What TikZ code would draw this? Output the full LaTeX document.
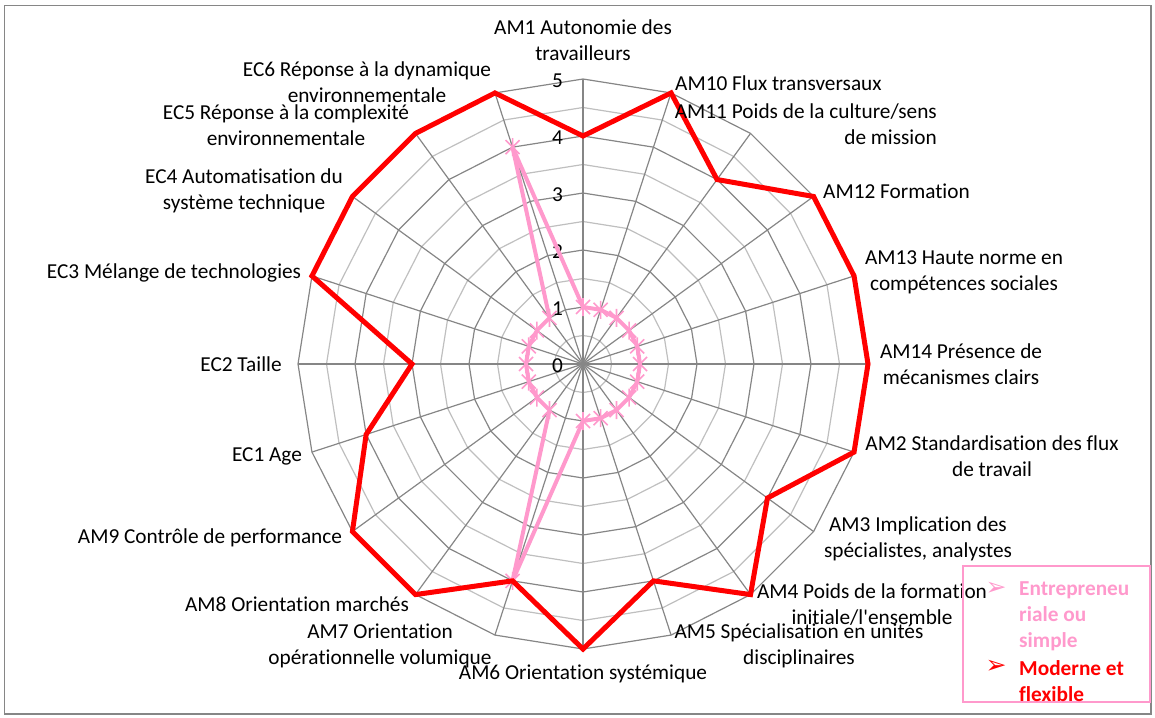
\documentclass[tikz,border=0pt]{standalone}
\usepackage{fontspec}
\setmainfont{Carlito}[Ligatures={TeXOff,CommonOff}]
\newfontfamily\symfont{DejaVu Sans}
\definecolor{gridd}{RGB}{134,134,134}
\definecolor{gridl}{RGB}{191,191,191}
\definecolor{pinkc}{RGB}{255,153,204}
\definecolor{redc}{RGB}{255,0,0}
\begin{document}
\begin{tikzpicture}[x=1pt,y=-1pt,
  lbl/.style={font=\fontsize{21.3}{26}\selectfont, inner sep=0pt, align=center, text=black},
  numlbl/.style={font=\fontsize{21.3}{26}\selectfont, inner sep=0pt, anchor=east},
  ringmajor/.style={draw=gridd, line width=1.2pt},
  ringminor/.style={draw=gridl, line width=1.2pt},
  spoke/.style={draw=gridd, line width=1.2pt},
  redseries/.style={draw=redc, line width=5pt, line join=miter, miter limit=4},
  pinkseries/.style={draw=pinkc, line width=4pt, line join=round},
  pinkmark/.style={draw=pinkc, line width=1.6pt},
  legtext/.style={font=\fontsize{21.3}{26}\selectfont\bfseries, inner sep=0pt, align=left, anchor=west},
  legbullet/.style={font=\fontsize{25}{28}\selectfont\symfont, inner sep=0pt}
]
\useasboundingbox (0,0) rectangle (1155,717);
\draw[gridd, line width=1.3pt] (4.5,5.5) rectangle (1151,714);

\begin{scope}[shift={(583,364)}]
  \foreach \k in {1,3,5,7,9}
    \draw[ringminor] (-90:28.5*\k) \foreach \i in {1,...,19}{ -- (\i*18-90:28.5*\k)} -- cycle;
  \foreach \k in {2,4,6,8,10}
    \draw[ringmajor] (-90:28.5*\k) \foreach \i in {1,...,19}{ -- (\i*18-90:28.5*\k)} -- cycle;
  \coordinate (C) at (0,0);
  \foreach \i in {0,...,19}{
    \coordinate (s\i) at (\i*18-90:285);
    \draw[spoke] (C) -- (s\i);
  }
  \foreach \i/\v in {0/4,1/5,2/4,3/5,4/5,5/5,6/5,7/4,8/5,9/4,10/5,11/4,12/5,13/5,14/4,15/3,16/5,17/5,18/5,19/5}
    \coordinate (r\i) at (\i*18-90:57*\v);
  \foreach \i/\v in {0/1,1/1,2/1,3/1,4/1,5/1,6/1,7/1,8/1,9/1,10/1,11/4,12/1,13/1,14/1,15/1,16/1,17/1,18/1,19/4}
    \coordinate (p\i) at (\i*18-90:57*\v);
\end{scope}

% value labels
\foreach \k in {0,...,5}
  \node[numlbl] (n\k) at (563, 366-57*\k) {\k};

% pink series
\draw[pinkseries] (p0) \foreach \i in {1,...,19}{ -- (p\i)} -- cycle;
\foreach \i in {0,...,19}
  \draw[pinkmark] (p\i) +(-7,-7) -- +(7,7) +(-7,7) -- +(7,-7) +(0,-9) -- +(0,9);

% red series
\draw[redseries] (r0) \foreach \i in {1,...,19}{ -- (r\i)} -- cycle;

% category labels
\node[lbl] (lAM1) at (583,40) {AM1 Autonomie des\\travailleurs};
\node[lbl, anchor=west] (lAM10) at (675,83) {AM10 Flux transversaux};
\node[lbl, align=right, anchor=east] (lAM11) at (937,124) {AM11 Poids de la culture/sens\\de mission};
\node[lbl, anchor=west] (lAM12) at (823,191) {AM12 Formation};
\node[lbl] (lAM13) at (964,272) {AM13 Haute norme en\\compétences sociales};
\node[lbl] (lAM14) at (961,364) {AM14 Présence de\\mécanismes clairs};
\node[lbl] (lAM2) at (992,456) {AM2 Standardisation des flux\\de travail};
\node[lbl] (lAM3) at (918,539) {AM3 Implication des\\spécialistes, analystes};
\node[lbl] (lAM4) at (872,605) {AM4 Poids de la formation\\initiale/l'ensemble};
\node[lbl] (lAM5) at (799,646) {AM5 Spécialisation en unités\\disciplinaires};
\node[lbl] (lAM6) at (583,674) {AM6 Orientation systémique};
\node[lbl] (lAM7) at (380,646) {AM7 Orientation\\opérationnelle volumique};
\node[lbl] (lAM8) at (297,604) {AM8 Orientation marchés};
\node[lbl] (lAM9) at (210,538) {AM9 Contrôle de performance};
\node[lbl] (lEC1) at (267,456) {EC1 Age};
\node[lbl] (lEC2) at (241,364) {EC2 Taille};
\node[lbl] (lEC3) at (174,273) {EC3 Mélange de technologies};
\node[lbl] (lEC4) at (244,191) {EC4 Automatisation du\\système technique};
\node[lbl] (lEC5) at (286,125) {EC5 Réponse à la complexité\\environnementale};
\node[lbl] (lEC6) at (367,82) {EC6 Réponse à la dynamique\\environnementale};

% legend
\node[draw=pinkc, line width=1.5pt, minimum width=187pt, minimum height=136pt, inner sep=0pt] (legbox) at (1056.5,634) {};
\node[legbullet, text=pinkc] (b1) at (996,589) {➢};
\node[legbullet, text=redc] (b2) at (996,667) {➢};
\node[legtext, text=pinkc] (t1) at (1019,616) {Entrepreneu\\riale ou\\simple};
\node[legtext, text=redc] (t2) at (1019,681) {Moderne et\\flexible};
\end{tikzpicture}
\end{document}
